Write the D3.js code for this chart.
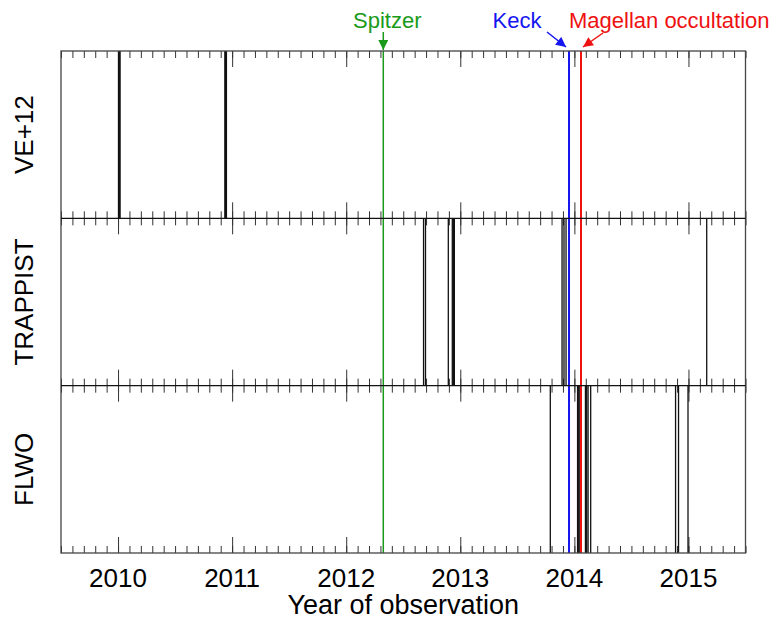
<html>
<head>
<script src="https://d3js.org/d3.v7.min.js"></script>
<style>
  body { margin: 0; background: #fff; }
  text { font-family: "Liberation Sans", Arial, Helvetica, sans-serif; }
</style>
</head>
<body>
<div id="chart"></div>
<script>
// year labels on the x axis
const years = [2010, 2011, 2012, 2013, 2014, 2015];
// panels, top to bottom
const panelNames = ["VE+12", "TRAPPIST", "FLWO"];
// observation dates (decimal year) for each panel
const ve12Dates = [2010.004, 2010.011, 2010.018, 2010.936, 2010.943, 2010.950];
const trappistDates = [2012.678, 2012.695, 2012.895, 2012.930, 2012.940, 2012.948,
  2013.892, 2013.909, 2013.927, 2015.160];
const flwoDates = [2013.789, 2014.028, 2014.038, 2014.048, 2014.097, 2014.108, 2014.120,
  2014.143, 2014.887, 2014.913, 2014.996];
// other observations marked across all panels
const eventNames = ["Spitzer", "Keck", "Magellan occultation"];
const eventDates = [2012.325, 2013.953, 2014.058];
const eventColors = ["#1a9a1a", "#1515f0", "#ee1111"];

const panelDates = [ve12Dates, trappistDates, flwoDates];

const W = 776, H = 619;
const margin = { top: 51, bottom: 66, left: 61, right: 30.5 };
const width = W - margin.left - margin.right;
const height = H - margin.top - margin.bottom;
const panelH = height / panelNames.length;

const svg = d3.select("#chart")
  .append("svg")
  .attr("width", W)
  .attr("height", H);

svg.append("defs").selectAll("marker")
  .data(eventColors)
  .join("marker")
  .attr("id", (d, i) => "arrow" + i)
  .attr("viewBox", "0 0 10 10")
  .attr("refX", 10)
  .attr("refY", 5)
  .attr("markerWidth", 11)
  .attr("markerHeight", 10)
  .attr("markerUnits", "userSpaceOnUse")
  .attr("orient", "auto")
  .append("path")
  .attr("d", "M0,0 L10,5 L0,10 z")
  .attr("fill", d => d);

const x = d3.scaleLinear()
  .domain([2009.5, 2015.5])
  .range([margin.left, margin.left + width]);

const y = d3.scaleBand()
  .domain(panelNames)
  .range([margin.top, margin.top + height]);

// a minor tick every tenth of a year
const minorTicks = d3.range(20095, 20156).map(d => d / 10);

panelNames.forEach((name, i) => {
  const top = y(name);
  const bottom = top + panelH;
  const g = svg.append("g");

  // ticks pointing inward at top and bottom of the panel
  [[top, d3.axisTop], [bottom, d3.axisBottom]].forEach(([yy, axisFn]) => {
    g.append("g")
      .attr("transform", `translate(0,${yy})`)
      .call(axisFn(x).tickValues(minorTicks).tickSize(-7).tickFormat(""))
      .call(a => a.select(".domain").remove())
      .selectAll("line").attr("stroke", "#333").attr("stroke-width", 1);
    g.append("g")
      .attr("transform", `translate(0,${yy})`)
      .call(axisFn(x).tickValues(years).tickSize(-16).tickFormat(""))
      .call(a => a.select(".domain").remove())
      .selectAll("line").attr("stroke", "#333").attr("stroke-width", 1);
  });

  // observation lines
  g.selectAll(".obs")
    .data(panelDates[i])
    .join("line")
    .attr("class", "obs")
    .attr("x1", d => x(d))
    .attr("x2", d => x(d))
    .attr("y1", top)
    .attr("y2", bottom)
    .attr("stroke", "#111")
    .attr("stroke-width", 1.3);

  svg.append("text")
    .attr("transform", `translate(33,${top + panelH / 2}) rotate(-90)`)
    .attr("text-anchor", "middle")
    .style("font-size", "26px")
    .text(name);
});

// coloured lines through all panels
svg.selectAll(".event")
  .data(eventDates)
  .join("line")
  .attr("class", "event")
  .attr("x1", d => x(d))
  .attr("x2", d => x(d))
  .attr("y1", margin.top)
  .attr("y2", margin.top + height)
  .attr("stroke", (d, i) => eventColors[i])
  .attr("stroke-width", (d, i) => i === 0 ? 1.5 : 2);

// frame and panel dividers
svg.append("rect")
  .attr("x", margin.left)
  .attr("y", margin.top)
  .attr("width", width)
  .attr("height", height)
  .attr("fill", "none")
  .attr("stroke", "#444")
  .attr("stroke-width", 1.3);
svg.selectAll(".divider")
  .data(panelNames.slice(1))
  .join("line")
  .attr("class", "divider")
  .attr("x1", margin.left)
  .attr("x2", margin.left + width)
  .attr("y1", d => y(d))
  .attr("y2", d => y(d))
  .attr("stroke", "#111")
  .attr("stroke-width", 1.3);

// year labels
svg.selectAll(".ylab")
  .data(years)
  .join("text")
  .attr("class", "ylab")
  .attr("x", d => x(d))
  .attr("y", 587)
  .attr("text-anchor", "middle")
  .style("font-size", "26px")
  .text(d => d);

svg.append("text")
  .attr("x", margin.left + width / 2)
  .attr("y", 614)
  .attr("text-anchor", "middle")
  .style("font-size", "27px")
  .text("Year of observation");

// event labels with arrows
const labelX = [x(eventDates[0]) + 4, x(eventDates[1]) - 52, x(eventDates[2]) - 12];
const anchors = ["middle", "middle", "start"];
const arrowFrom = [[x(eventDates[0]), 32], [x(eventDates[1]) - 22, 32], [x(eventDates[2]) + 22, 33]];
const arrowTo = [[x(eventDates[0]), 50], [x(eventDates[1]) - 3, 47], [x(eventDates[2]) + 2, 47]];

eventNames.forEach((name, i) => {
  svg.append("text")
    .attr("x", labelX[i])
    .attr("y", 28)
    .attr("text-anchor", anchors[i])
    .attr("fill", eventColors[i])
    .style("font-size", "22px")
    .text(name);
  svg.append("line")
    .attr("x1", arrowFrom[i][0])
    .attr("y1", arrowFrom[i][1])
    .attr("x2", arrowTo[i][0])
    .attr("y2", arrowTo[i][1])
    .attr("stroke", eventColors[i])
    .attr("stroke-width", 1.5)
    .attr("marker-end", `url(#arrow${i})`);
});
</script>
</body>
</html>
